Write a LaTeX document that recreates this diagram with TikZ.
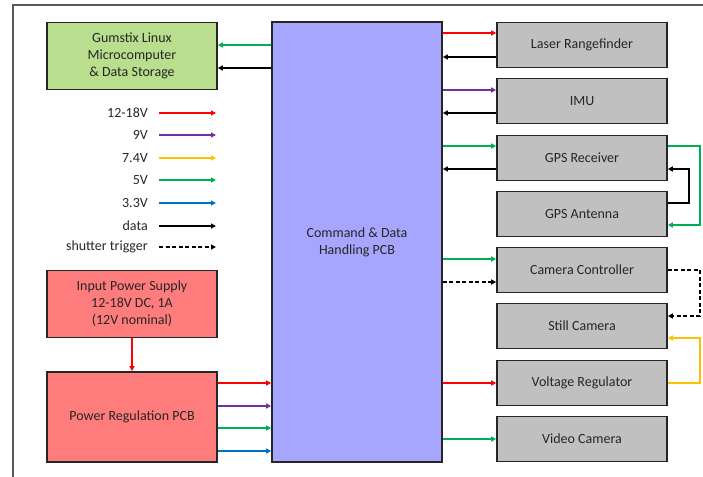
\documentclass[tikz,border=0pt]{standalone}
\usepackage{fontspec}
\setmainfont{Carlito}
\usetikzlibrary{arrows.meta}
\definecolor{cRed}{RGB}{255,0,0}
\definecolor{cPurple}{RGB}{112,48,160}
\definecolor{cYellow}{RGB}{255,192,0}
\definecolor{cGreen}{RGB}{0,176,80}
\definecolor{cBlue}{RGB}{0,112,192}
\definecolor{fGreen}{RGB}{184,222,142}
\definecolor{fPink}{RGB}{255,124,124}
\definecolor{fLav}{RGB}{166,166,255}
\definecolor{fGrey}{RGB}{192,192,192}
\definecolor{edge}{RGB}{38,38,38}
\tikzset{
  box/.style={draw=edge, line width=1.6pt, align=center, inner sep=0pt,
    font=\fontsize{14}{17}\selectfont, text=black!85},
  devbox/.style={box, fill=fGrey, minimum width=170pt, minimum height=45pt},
  wire/.style={line width=1.6pt, -{Triangle[length=5pt,width=5pt]}},
  w12/.style={wire, cRed},
  w9/.style={wire, cPurple},
  w74/.style={wire, cYellow},
  w5/.style={wire, cGreen},
  w33/.style={wire, cBlue},
  wdata/.style={wire, black},
  wtrig/.style={wire, black, dash pattern=on 4pt off 2.5pt},
  legtext/.style={anchor=east, inner sep=0pt, font=\fontsize{14}{17}\selectfont, text=black!85}
}
\begin{document}
\begin{tikzpicture}[x=1pt, y=-1pt]
\useasboundingbox (0,0) rectangle (703,476);
% outer frame
\draw[black!65, line width=1.2pt] (13,477) -- (13,5) -- (704,5);

% main blocks
\node[box, fill=fLav, minimum width=170pt, minimum height=440pt] (pcb) at (357,242)
  {Command \& Data\\Handling PCB};
\node[box, fill=fGreen, minimum width=170pt, minimum height=67pt] (gum) at (132,56)
  {Gumstix Linux\\Microcomputer\\\& Data Storage};
\node[box, fill=fPink, minimum width=170pt, minimum height=67pt] (inp) at (132,304)
  {Input Power Supply\\12-18V DC, 1A\\(12V nominal)};
\node[box, fill=fPink, minimum width=170pt, minimum height=90pt] (preg) at (132,417)
  {Power Regulation PCB};

% peripheral devices
\node[devbox] (las) at (582,45)  {Laser Rangefinder};
\node[devbox] (imu) at (582,101) {IMU};
\node[devbox] (gpr) at (582,158) {GPS Receiver};
\node[devbox] (gpa) at (582,214) {GPS Antenna};
\node[devbox] (cc)  at (582,270) {Camera Controller};
\node[devbox] (sc)  at (582,326) {Still Camera};
\node[devbox] (vr)  at (582,383) {Voltage Regulator};
\node[devbox] (vc)  at (582,439) {Video Camera};

% attachment points on block edges
\coordinate (gumA) at ([yshift=11pt]gum.east);
\coordinate (gumB) at ([yshift=-12pt]gum.east);
\coordinate (lasA) at ([yshift=12pt]las.west);
\coordinate (lasB) at ([yshift=-12pt]las.west);
\coordinate (imuA) at ([yshift=11pt]imu.west);
\coordinate (imuB) at ([yshift=-12pt]imu.west);
\coordinate (gprA) at ([yshift=12pt]gpr.west);
\coordinate (gprB) at ([yshift=-11pt]gpr.west);
\coordinate (ccA)  at ([yshift=11pt]cc.west);
\coordinate (ccB)  at ([yshift=-12pt]cc.west);
\coordinate (pr1) at ([yshift=34pt]preg.east);
\coordinate (pr2) at ([yshift=11pt]preg.east);
\coordinate (pr3) at ([yshift=-11pt]preg.east);
\coordinate (pr4) at ([yshift=-34pt]preg.east);
\coordinate (gprR1) at ([yshift=12pt]gpr.east);
\coordinate (gprR2) at ([yshift=-11pt]gpr.east);
\coordinate (gpaR1) at ([yshift=11pt]gpa.east);
\coordinate (gpaR2) at ([yshift=-11pt]gpa.east);
\coordinate (scR1) at ([yshift=10pt]sc.east);
\coordinate (scR2) at ([yshift=-12pt]sc.east);

% PCB -> Gumstix
\draw[w5]    (pcb.west |- gumA) -- (gumA);
\draw[wdata] (pcb.west |- gumB) -- (gumB);

% PCB <-> devices
\draw[w12]   (pcb.east |- lasA) -- (lasA);
\draw[wdata] (lasB) -- (pcb.east |- lasB);
\draw[w9]    (pcb.east |- imuA) -- (imuA);
\draw[wdata] (imuB) -- (pcb.east |- imuB);
\draw[w5]    (pcb.east |- gprA) -- (gprA);
\draw[wdata] (gprB) -- (pcb.east |- gprB);
\draw[w5]    (pcb.east |- ccA) -- (ccA);
\draw[wtrig] (pcb.east |- ccB) -- (ccB);
\draw[w12]   (pcb.east |- vr.west) -- (vr.west);
\draw[w5]    (pcb.east |- vc.west) -- (vc.west);

% power path
\draw[w12] (inp.south) -- (preg.north);
\draw[w12] (pr1) -- (pcb.west |- pr1);
\draw[w9]  (pr2) -- (pcb.west |- pr2);
\draw[w5]  (pr3) -- (pcb.west |- pr3);
\draw[w33] (pr4) -- (pcb.west |- pr4);

% loops on the right side
\draw[w5]    (gprR1) -- (700,146) -- (700,225) -- (gpaR2);
\draw[wdata] (gpaR1) -- (689,203) -- (689,169) -- (gprR2);
\draw[wtrig] (cc.east) -- (700,270) -- (700,316) -- (scR1);
\draw[w74]   (vr.east) -- (700,383) -- (700,338) -- (scR2);

% legend
\node[legtext] (k1) at (148,113) {12-18V};
\node[legtext] (k2) at (148,135) {9V};
\node[legtext] (k3) at (148,158) {7.4V};
\node[legtext] (k4) at (148,180) {5V};
\node[legtext] (k5) at (148,203) {3.3V};
\node[legtext] (k6) at (148,226) {data};
\node[legtext] (k7) at (148,247) {shutter trigger};
\draw[w12]   ([xshift=11pt]k1.east) -- ++(57,0);
\draw[w9]    ([xshift=11pt]k2.east) -- ++(57,0);
\draw[w74]   ([xshift=11pt]k3.east) -- ++(57,0);
\draw[w5]    ([xshift=11pt]k4.east) -- ++(57,0);
\draw[w33]   ([xshift=11pt]k5.east) -- ++(57,0);
\draw[wdata] ([xshift=11pt]k6.east) -- ++(57,0);
\draw[wtrig] ([xshift=11pt]k7.east) -- ++(57,0);
\end{tikzpicture}
\end{document}
